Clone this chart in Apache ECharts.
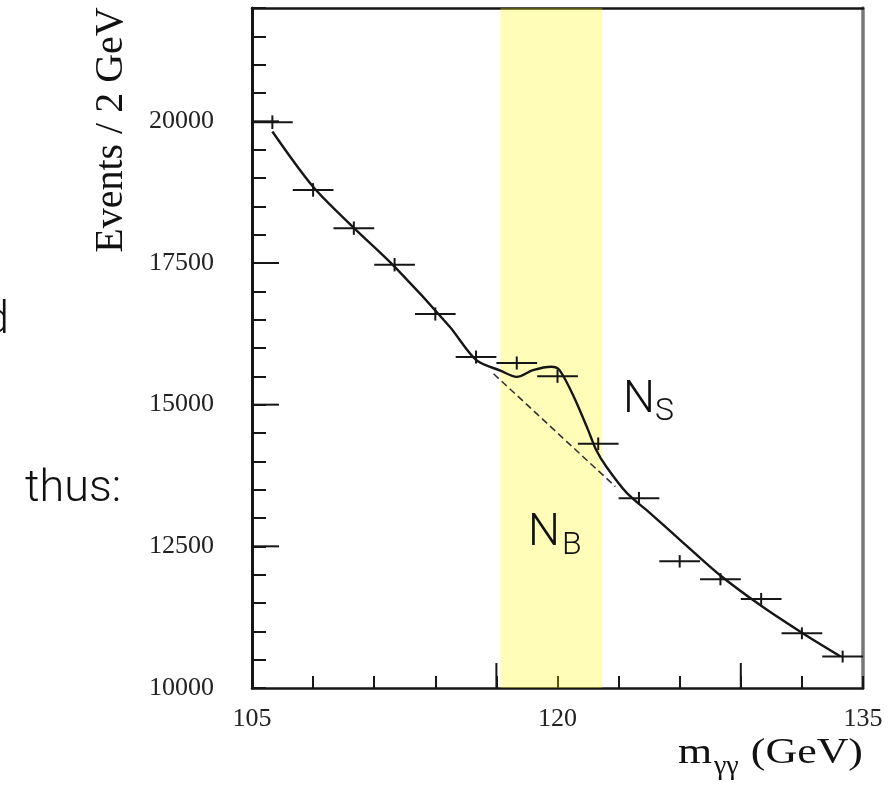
<!DOCTYPE html>
<html><head><meta charset="utf-8">
<script src="https://cdn.jsdelivr.net/npm/echarts@6/dist/echarts.min.js"></script>
<style>html,body{margin:0;padding:0;background:#fff}#c{width:892px;height:785px}</style>
</head><body><div id="c"></div>
<script>
// ---- data ----
const binCenters = [106,108,110,112,114,116,118,120,122,124,126,128,130,132,134];
const counts     = [19985,18790,18115,17470,16600,15840,15735,15500,14310,13350,12235,11920,11570,10965,10555];
const errors     = [120,120,118,118,116,115,115,115,112,110,110,108,108,105,105];
const binHalfWidth = 1;
const fitX = [106.0,108.0,110.0,112.0,114.7,116.0,117.2,118.0,118.8,119.7,120.1,120.8,121.5,121.9,122.4,123.4,124.5,126.0,128.0,130.0,132.0,133.9];
const fitY = [19820,18845,18120,17435,16380,15790,15600,15490,15610,15670,15610,15140,14555,14200,13905,13443,13100,12620,11985,11450,10975,10555];
const bgX = [116.86,122.84];
const bgY = [15545,13555];
const bandRange = [117.2,122.2];
const xLabels = [105,120,135];
const yLabels = [10000,12500,15000,17500,20000];
const xLongTicks = [105,117,129];
const yLongTicks = [12500,15000,17500,20000];
const xRange = [105,135];
const yRange = [10000,22000];

const chart = echarts.init(document.getElementById('c'), null, {renderer:'canvas'});
const serif = '"Liberation Serif","DejaVu Serif",serif';
const sans = 'Roboto,"Liberation Sans",sans-serif';
const dark = '#161616';

const option = {
  animation:false,
  backgroundColor:'#ffffff',
  grid:{left:252,right:29,top:8,bottom:97,show:false},
  xAxis:[
    {type:'value',min:xRange[0],max:xRange[1],interval:3,position:'bottom',
     axisLine:{show:true,onZero:false,lineStyle:{color:dark,width:2.5}},
     axisTick:{show:true,inside:true,length:12,lineStyle:{color:dark,width:2}},
     axisLabel:{formatter:v=>xLabels.includes(v)?String(v):'',fontFamily:serif,fontSize:26,color:'#222',margin:18},
     splitLine:{show:false}},
    {type:'value',min:xRange[0],max:xRange[1],position:'top',
     axisLine:{show:true,onZero:false,lineStyle:{color:dark,width:2.5}},
     axisTick:{show:false},axisLabel:{show:false},splitLine:{show:false}}
  ],
  yAxis:[
    {type:'value',min:yRange[0],max:yRange[1],interval:500,position:'left',
     axisLine:{show:true,onZero:false,lineStyle:{color:dark,width:3}},
     axisTick:{show:true,inside:true,length:14,lineStyle:{color:dark,width:2}},
     axisLabel:{formatter:v=>yLabels.includes(v)?String(v):'',fontFamily:serif,fontSize:26,color:'#222',margin:38},
     splitLine:{show:false}},
    {type:'value',min:yRange[0],max:yRange[1],position:'right',
     axisLine:{show:true,onZero:false,lineStyle:{color:'#777',width:3.5}},
     axisTick:{show:false},axisLabel:{show:false},splitLine:{show:false}}
  ],
  series:[
    {type:'line',xAxisIndex:0,yAxisIndex:0,z:3,
     data:fitX.map((x,i)=>[x,fitY[i]]),smooth:0.3,symbol:'none',
     lineStyle:{color:dark,width:2.4}},
    {type:'line',xAxisIndex:0,yAxisIndex:0,z:3,
     data:bgX.map((x,i)=>[x,bgY[i]]),symbol:'none',
     lineStyle:{color:'#333',width:1.6,type:[7,4]}},
    {type:'custom',xAxisIndex:0,yAxisIndex:0,z:4,
     data:binCenters.map((x,i)=>[x,counts[i],errors[i]]),
     renderItem:(params,api)=>{
       const x=api.value(0),y=api.value(1),e=api.value(2);
       const l=api.coord([x-binHalfWidth,y]),r=api.coord([x+binHalfWidth,y]);
       const t=api.coord([x,y+e]),b=api.coord([x,y-e]);
       return {type:'group',children:[
         {type:'line',shape:{x1:l[0],y1:l[1],x2:r[0],y2:r[1]},style:{stroke:dark,lineWidth:2}},
         {type:'line',shape:{x1:t[0],y1:t[1],x2:b[0],y2:b[1]},style:{stroke:dark,lineWidth:2}}
       ]};
     }},
    // long (major) ticks on the x axis
    {type:'custom',xAxisIndex:0,yAxisIndex:0,z:2,clip:false,
     data:xLongTicks.map(v=>[v,yRange[0]]),
     renderItem:(params,api)=>{
       const p=api.coord([api.value(0),api.value(1)]);
       return {type:'line',shape:{x1:p[0],y1:p[1],x2:p[0],y2:p[1]-25},style:{stroke:dark,lineWidth:2}};
     }},
    // long (major) ticks on the y axis
    {type:'custom',xAxisIndex:0,yAxisIndex:0,z:2,clip:false,
     data:yLongTicks.map(v=>[xRange[0],v]),
     renderItem:(params,api)=>{
       const p=api.coord([api.value(0),api.value(1)]);
       return {type:'line',shape:{x1:p[0],y1:p[1],x2:p[0]+27,y2:p[1]},style:{stroke:dark,lineWidth:2}};
     }},
    {type:'line',xAxisIndex:0,yAxisIndex:0,z:20,data:[],symbol:'none',
     markArea:{silent:true,itemStyle:{color:'rgba(255,248,0,0.28)'},
       data:[[{xAxis:bandRange[0]},{xAxis:bandRange[1]}]]}}
  ],
  graphic:[
    {type:'text',x:111,y:130,rotation:Math.PI/2,z:30,
     style:{text:'Events / 2 GeV',font:'40px '+serif,fill:'#111',textAlign:'center',align:'center',textVerticalAlign:'middle',verticalAlign:'middle'}},
    {type:'text',x:863,y:754,scaleX:1.22,z:30,
     style:{text:'(GeV)',font:'36px '+serif,fill:'#111',textAlign:'right',align:'right',textVerticalAlign:'middle',verticalAlign:'middle'}},
    {type:'text',x:714,y:767,z:30,
     style:{text:'γγ',font:'28px '+serif,fill:'#111',textAlign:'left',align:'left',textVerticalAlign:'middle',verticalAlign:'middle'}},
    {type:'text',x:678,y:754,scaleX:1.22,z:30,
     style:{text:'m',font:'36px '+serif,fill:'#111',textAlign:'left',align:'left',textVerticalAlign:'middle',verticalAlign:'middle'}},
    {type:'text',x:623,y:401,z:30,
     style:{text:'N',font:'300 45px '+sans,fill:'#111',textAlign:'left',align:'left',textVerticalAlign:'middle',verticalAlign:'middle'}},
    {type:'text',x:655,y:412,z:30,
     style:{text:'S',font:'300 32px '+sans,fill:'#111',textAlign:'left',align:'left',textVerticalAlign:'middle',verticalAlign:'middle'}},
    {type:'text',x:528,y:534,z:30,
     style:{text:'N',font:'300 45px '+sans,fill:'#111',textAlign:'left',align:'left',textVerticalAlign:'middle',verticalAlign:'middle'}},
    {type:'text',x:562,y:546,z:30,
     style:{text:'B',font:'300 32px '+sans,fill:'#111',textAlign:'left',align:'left',textVerticalAlign:'middle',verticalAlign:'middle'}},
    {type:'text',x:25,y:490,z:30,
     style:{text:'thus:',font:'300 45px '+sans,fill:'#111',textAlign:'left',align:'left',textVerticalAlign:'middle',verticalAlign:'middle'}},
    {type:'text',x:9,y:322,z:30,
     style:{text:'d',font:'300 45px '+sans,fill:'#111',textAlign:'right',align:'right',textVerticalAlign:'middle',verticalAlign:'middle'}}
  ]
};
chart.setOption(option);
</script>
</body></html>
